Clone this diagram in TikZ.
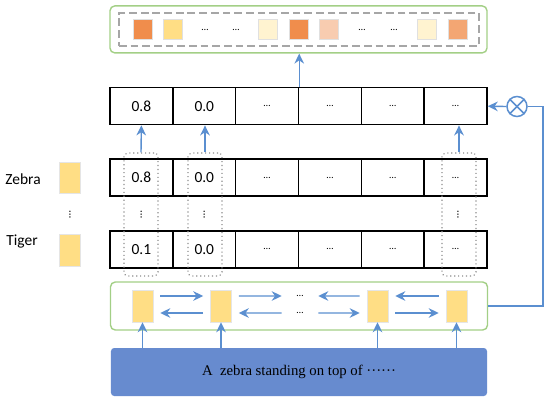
\documentclass[tikz,border=0pt]{standalone}
\usepackage{fontspec}
\setmainfont{Carlito}
\newfontfamily\sentfont{Liberation Serif}
\usetikzlibrary{arrows.meta}
\definecolor{arrblue}{HTML}{5B8FD0}
\definecolor{boxgreen}{HTML}{A3CF86}
\definecolor{sentblue}{HTML}{678BCF}
\definecolor{wdorange}{HTML}{F08D4C}
\definecolor{wdyellow}{HTML}{FFDE85}
\definecolor{wdcream}{HTML}{FFF3D0}
\definecolor{wdpeach}{HTML}{F8CCB0}
\definecolor{wdlight}{HTML}{F3A673}
\newcommand{\celldots}{{\scriptsize …}}
\tikzset{
  cell/.style={draw, line width=1pt, minimum width=15.71mm, minimum height=9.25mm, inner sep=0pt, font=\fontsize{11}{13}\selectfont},
  wbox/.style={draw=black!12, line width=0.4pt, minimum width=4.75mm, minimum height=5mm, inner sep=0pt},
  hbar/.style={fill=wdyellow, draw=black!10, line width=0.4pt, minimum width=5.25mm, minimum height=8mm, inner sep=0pt},
  selbox/.style={draw=black!45, dotted, line width=0.8pt, rounded corners=1mm, minimum width=8.5mm, minimum height=30.75mm},
  greenbox/.style={draw=boxgreen, line width=1pt, rounded corners=1.2mm, minimum width=94.25mm, minimum height=11.75mm},
  arr/.style={draw=arrblue, line width=1pt, -{Stealth[length=2.5mm, width=2.4mm]}},
  harr/.style={arr, shorten <=1.75mm, shorten >=1.75mm},
  vdotnode/.style={rotate=90, font=\footnotesize, inner sep=0pt},
  word/.style={font=\fontsize{11}{13}\selectfont}
}
\begin{document}
\begin{tikzpicture}[x=0.25mm, y=-0.25mm]
  \useasboundingbox (0,0) rectangle (550,401);
  % output box with weights
  \node[greenbox] (outbox) at (298.5,29.4) {};
  \node[draw=black!35, dash pattern=on 5.5pt off 2.8pt, line width=1pt, minimum width=90mm, minimum height=8.25mm] (weights) at (299,29.5) {};
  \node[wbox, fill=wdorange] (w1) at (142.5,29.5) {};
  \node[wbox, fill=wdyellow] (w2) at (172.5,29.5) {};
  \node (wd1) at (205,29.5) {\celldots};
  \node (wd2) at (236,29.5) {\celldots};
  \node[wbox, fill=wdcream] (w3) at (267.5,29.5) {};
  \node[wbox, fill=wdorange] (w4) at (298.5,29.5) {};
  \node[wbox, fill=wdpeach] (w5) at (329,29.5) {};
  \node (wd3) at (362,29.5) {\celldots};
  \node (wd4) at (394,29.5) {\celldots};
  \node[wbox, fill=wdcream] (w6) at (426.5,29.5) {};
  \node[wbox, fill=wdlight] (w7) at (458,29.5) {};
  % pooled row
  \node[cell] (t1) at (141.4,106.2) {0.8};
  \node[cell] (t2) at (204.3,106.2) {0.0};
  \node[cell] (t3) at (267.1,106.2) {\celldots};
  \node[cell] (t4) at (329.9,106.2) {\celldots};
  \node[cell] (t5) at (392.8,106.2) {\celldots};
  \node[cell] (t6) at (455.6,106.2) {\celldots};
  % labels
  \node[word] (zebra) at (23,179) {Zebra};
  \node[word] (tiger) at (22,242) {Tiger};
  \node[hbar, minimum height=7.75mm] (zbar) at (69.5,177.5) {};
  \node[hbar] (gbar) at (69.5,250.5) {};
  \node[vdotnode] (ld) at (70,215) {…};
  % zebra row
  \node[cell] (z1) at (141.4,177.5) {0.8};
  \node[cell] (z2) at (204.3,177.5) {0.0};
  \node[cell] (z3) at (267.1,177.5) {\celldots};
  \node[cell] (z4) at (329.9,177.5) {\celldots};
  \node[cell] (z5) at (392.8,177.5) {\celldots};
  \node[cell] (z6) at (455.6,177.5) {\celldots};
  % tiger row
  \node[cell] (g1) at (141.4,249.4) {0.1};
  \node[cell] (g2) at (204.3,249.4) {0.0};
  \node[cell] (g3) at (267.1,249.4) {\celldots};
  \node[cell] (g4) at (329.9,249.4) {\celldots};
  \node[cell] (g5) at (392.8,249.4) {\celldots};
  \node[cell] (g6) at (455.6,249.4) {\celldots};
  \node[vdotnode] (cd1) at (141.4,215) {…};
  \node[vdotnode] (cd2) at (204.3,215) {…};
  \node[vdotnode] (cd6) at (458,215) {…};
  % selected columns
  \node[selbox] (sel1) at (141,214.5) {};
  \node[selbox] (sel2) at (205,214.5) {};
  \node[selbox] (sel3) at (459,214.5) {};
  % encoder box
  \node[greenbox, minimum height=12mm] (enc) at (299,306) {};
  \node[hbar] (h1) at (142.5,306) {};
  \node[hbar] (h2) at (221,306) {};
  \node[hbar] (h3) at (377.5,306) {};
  \node[hbar] (h4) at (456.5,306) {};
  \node[minimum width=5.5mm, inner sep=0pt] (d1) at (300,296) {\celldots};
  \node[minimum width=5.5mm, inner sep=0pt] (d2) at (300,313) {\celldots};
  % sentence
  \node[fill=sentblue, rounded corners=0.8mm, minimum width=94mm, minimum height=12mm, font=\sentfont\fontsize{10.5}{12}\selectfont] (sent) at (299,372) {A\ \ zebra standing on top of ······};
  \coordinate (fb) at (543,106.5);
  \node[circle, draw=arrblue, line width=1.1pt, minimum size=5mm, inner sep=0pt] (mul) at (517,106.5) {};
  \draw[arrblue, line width=1.1pt] (mul.north east) -- (mul.south west);
  \draw[arrblue, line width=1.1pt] (mul.north west) -- (mul.south east);
  % arrows
  \draw[arr] (sent.north -| h1) -- (h1.south);
  \draw[arr] (sent.north -| h2) -- (h2.south);
  \draw[arr] (sent.north -| h3) -- (h3.south);
  \draw[arr] (sent.north -| h4) -- (h4.south);
  \draw[harr] ([yshift=2.5mm]h1.east) -- ([yshift=2.5mm]h2.west);
  \draw[harr] ([yshift=-1.75mm]h2.west) -- ([yshift=-1.75mm]h1.east);
  \draw[harr] ([yshift=2.5mm]h2.east) -- (d1.west);
  \draw[harr] (d2.west) -- ([yshift=-1.75mm]h2.east);
  \draw[harr] ([yshift=2.5mm]h3.west) -- (d1.east);
  \draw[harr] (d2.east) -- ([yshift=-1.75mm]h3.west);
  \draw[harr] ([yshift=2.5mm]h4.west) -- ([yshift=2.5mm]h3.east);
  \draw[harr] ([yshift=-1.75mm]h3.east) -- ([yshift=-1.75mm]h4.west);
  \draw[arr] (sel1.north) -- (t1.south);
  \draw[arr] (sel2.north) -- (sel2.north |- t2.south);
  \draw[arr] (sel3.north) -- (sel3.north |- t6.south);
  \draw[arr] (t3.north east) -- (t3.north east |- outbox.south);
  \draw[arrblue, line width=1pt] (enc.east) -| (fb) -- (mul.east);
  \draw[arr] (mul.west) -- (t6.east);
\end{tikzpicture}
\end{document}
